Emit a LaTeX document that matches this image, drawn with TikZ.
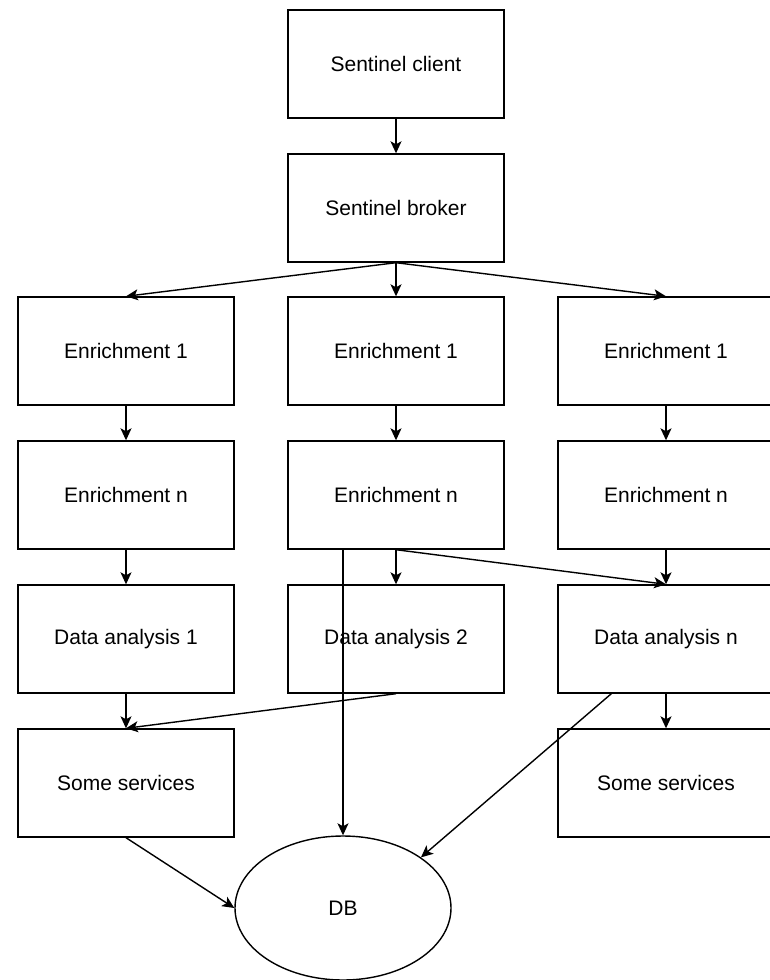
\documentclass[tikz,border=0pt]{standalone}
\usepackage{fontspec}
\setmainfont{Liberation Sans}
\usetikzlibrary{arrows.meta,shapes.geometric}
\begin{document}
\begin{tikzpicture}[x=1pt,y=-1pt,
  box/.style={draw,line width=1.4pt,rectangle,minimum width=216pt,minimum height=108pt,inner sep=0pt,font=\fontsize{21}{25}\selectfont},
  dbshape/.style={draw,line width=1.4pt,ellipse,minimum width=216pt,minimum height=144pt,inner sep=0pt,font=\fontsize{21}{25}\selectfont},
  conn/.style={line width=1.4pt,-{Stealth[length=12pt,width=11pt,inset=3pt]}}]
\useasboundingbox (0,0) rectangle (770,980);
\clip (0,0) rectangle (770,980);
\fill[white] (0,0) rectangle (770,980);
\node[box] (client) at (396,64) {Sentinel client};
\node[box] (broker) at (396,208) {Sentinel broker};
\node[box] (e1L) at (126,351) {Enrichment 1};
\node[box] (e1M) at (396,351) {Enrichment 1};
\node[box] (e1R) at (666,351) {Enrichment 1};
\node[box] (enL) at (126,495) {Enrichment n};
\node[box] (enM) at (396,495) {Enrichment n};
\node[box] (enR) at (666,495) {Enrichment n};
\node[box] (daL) at (126,639) {Data analysis 1};
\node[box] (daM) at (396,639) {Data analysis 2};
\node[box] (daR) at (666,639) {Data analysis n};
\node[box] (ssL) at (126,783) {Some services};
\node[box] (ssR) at (666,783) {Some services};
\node[dbshape] (db) at (343,908) {DB};
\coordinate (daRout) at ([xshift=54pt]daR.south west);
\draw[conn] (client.south) -- (broker.north);
\draw[conn] (broker.south) -- (e1L.north);
\draw[conn] (broker.south) -- (e1M.north);
\draw[conn] (broker.south) -- (e1R.north);
\draw[conn] (e1L.south) -- (enL.north);
\draw[conn] (e1M.south) -- (enM.north);
\draw[conn] (e1R.south) -- (enR.north);
\draw[conn] (enL.south) -- (daL.north);
\draw[conn] (enM.south) -- (daM.north);
\draw[conn] (enR.south) -- (daR.north);
\draw[conn] (enM.south) -- (daR.north);
\draw[conn] (daL.south) -- (ssL.north);
\draw[conn] (daM.south) -- (ssL.north);
\draw[conn] (daR.south) -- (ssR.north);
\draw[conn] (enM.south -| db.north) -- (db.north);
\draw[conn] (daRout) -- (db.33.5);
\draw[conn] (ssL.south) -- (db.west);
\end{tikzpicture}
\end{document}
